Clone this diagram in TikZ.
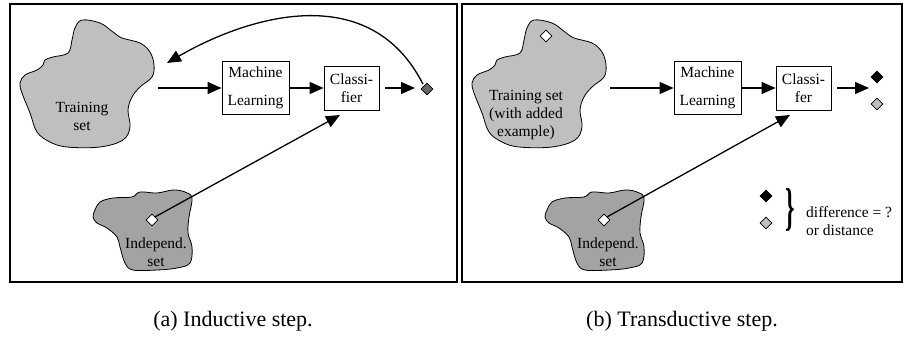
\documentclass[tikz,border=0pt]{standalone}
\usepackage{graphicx}
\usepackage{fontspec}
\setmainfont{Liberation Serif}
\usetikzlibrary{arrows.meta,shapes.geometric}

\begin{document}
\begin{tikzpicture}[x=1pt,y=-1pt,
  frame/.style={line width=2.4pt},
  blob/.style={draw=black,line width=0.8pt},
  trainfill/.style={fill=black!25},
  indepfill/.style={fill=black!36},
  txt/.style={align=center,inner sep=0pt,font=\fontsize{15.5}{18}\selectfont},
  box/.style={draw,line width=0.8pt,fill=white,inner sep=0pt,align=center,
              font=\fontsize{15.5}{18}\selectfont},
  arr/.style={line width=1.3pt,-{Triangle[length=14pt,width=12pt]}},
  gem/.style={diamond,draw,line width=0.6pt,minimum width=12pt,minimum height=12pt,inner sep=0pt},
  subcaption/.style={inner sep=0pt,font=\fontsize{22}{26}\selectfont}]

\useasboundingbox (0,0) rectangle (904,337);

% panel frames
\draw[frame] (10,4) rectangle (457,282);
\draw[frame] (462,4) rectangle (902,282);

% the two data clouds, drawn once per panel
\foreach \dx in {0,452} {
  \begin{scope}[xshift=\dx]
    \draw[blob,trainfill] plot[smooth cycle,tension=0.6] coordinates {
      (82,20) (100,23) (113,32) (122,38) (140,43) (150,52) (154,65) (152,77)
      (140,87) (132,97) (128,110) (130,127) (123,140) (100,147) (67,147)
      (50,142) (37,132) (30,113) (22,93) (20,83) (25,75) (37,70) (43,65)
      (45,60) (53,57) (68,53) (72,40) (75,28)};
    \draw[blob,indepfill] plot[smooth cycle,tension=0.6] coordinates {
      (95,210) (100,202) (113,198) (132,197) (140,192) (157,193) (173,190)
      (185,192) (192,198) (189,217) (188,233) (192,247) (190,263) (177,268)
      (157,270) (133,270) (125,263) (120,247) (117,237) (107,228) (97,223)
      (93,217)};
  \end{scope}
}

% ---------- (a) inductive step ----------
\node[txt] (atrtxt) at (82,116) {Training\\set};
\node[txt] (aintxt) at (156,252) {Independ.\\set};
\node[box,minimum width=67pt,minimum height=53pt] (aml) at (255.5,88) {Machine\\[10pt]Learning};
\node[box,minimum width=55pt,minimum height=44pt] (acl) at (351.5,88) {Classi-\\fier};
\node[gem,fill=black!60] (aout) at (427,89) {};
\node[gem,fill=white] (ain) at (152,220) {};
\coordinate (atrout) at (158,88);
\coordinate (aret) at (167,63);
\coordinate (aclin) at (340,115);
\coordinate (aoutin) at (415,88);

\draw[arr] (atrout) -- (aml.west);
\draw[arr] (aml.east) -- (acl.west);
\draw[arr] ([xshift=6pt]acl.east) -- (aoutin);
\draw[arr] (ain.north east) -- (aclin);
\draw[arr,shorten <=2pt] (aout.north west) .. controls (370,-20) and (250,15) .. (aret);

% ---------- (b) transductive step ----------
\node[txt] (btrtxt) at (526,115) {Training set\\(with added\\example)};
\node[gem,fill=white] (btrgem) at (546,36) {};
\node[txt] (bintxt) at (608,252) {Independ.\\set};
\node[box,minimum width=67pt,minimum height=53pt] (bml) at (707.5,88) {Machine\\[10pt]Learning};
\node[box,minimum width=55pt,minimum height=44pt] (bcl) at (803.5,88) {Classi-\\fer};
\node[gem,fill=white] (bin) at (604,220) {};
\coordinate (btrout) at (610,88);
\coordinate (bclin) at (790,115);
\coordinate (boutin) at (869,88);
\node[gem,fill=black] (bpred1) at (877,77) {};
\node[gem,fill=black!25] (bpred2) at (877,104) {};

\draw[arr] (btrout) -- (bml.west);
\draw[arr] (bml.east) -- (bcl.west);
\draw[arr] ([xshift=6pt]bcl.east) -- (boutin);
\draw[arr] (bin.north east) -- (bclin);

% comparison key
\node[gem,fill=black] (bkey1) at (766,196) {};
\node[gem,fill=black!25] (bkey2) at (766,223) {};
\node[inner sep=0pt] (bbrace) at (790,210)
  {\scalebox{1.2}[2.6]{\fontsize{20}{20}\selectfont\bfseries\}}};
\node[txt,anchor=west,align=left] (bdiff) at (806,221) {difference = ?\\or distance};

% captions
\node[subcaption] (capa) at (233,321) {(a) Inductive step.};
\node[subcaption] (capb) at (682,321) {(b) Transductive step.};
\end{tikzpicture}
\end{document}
